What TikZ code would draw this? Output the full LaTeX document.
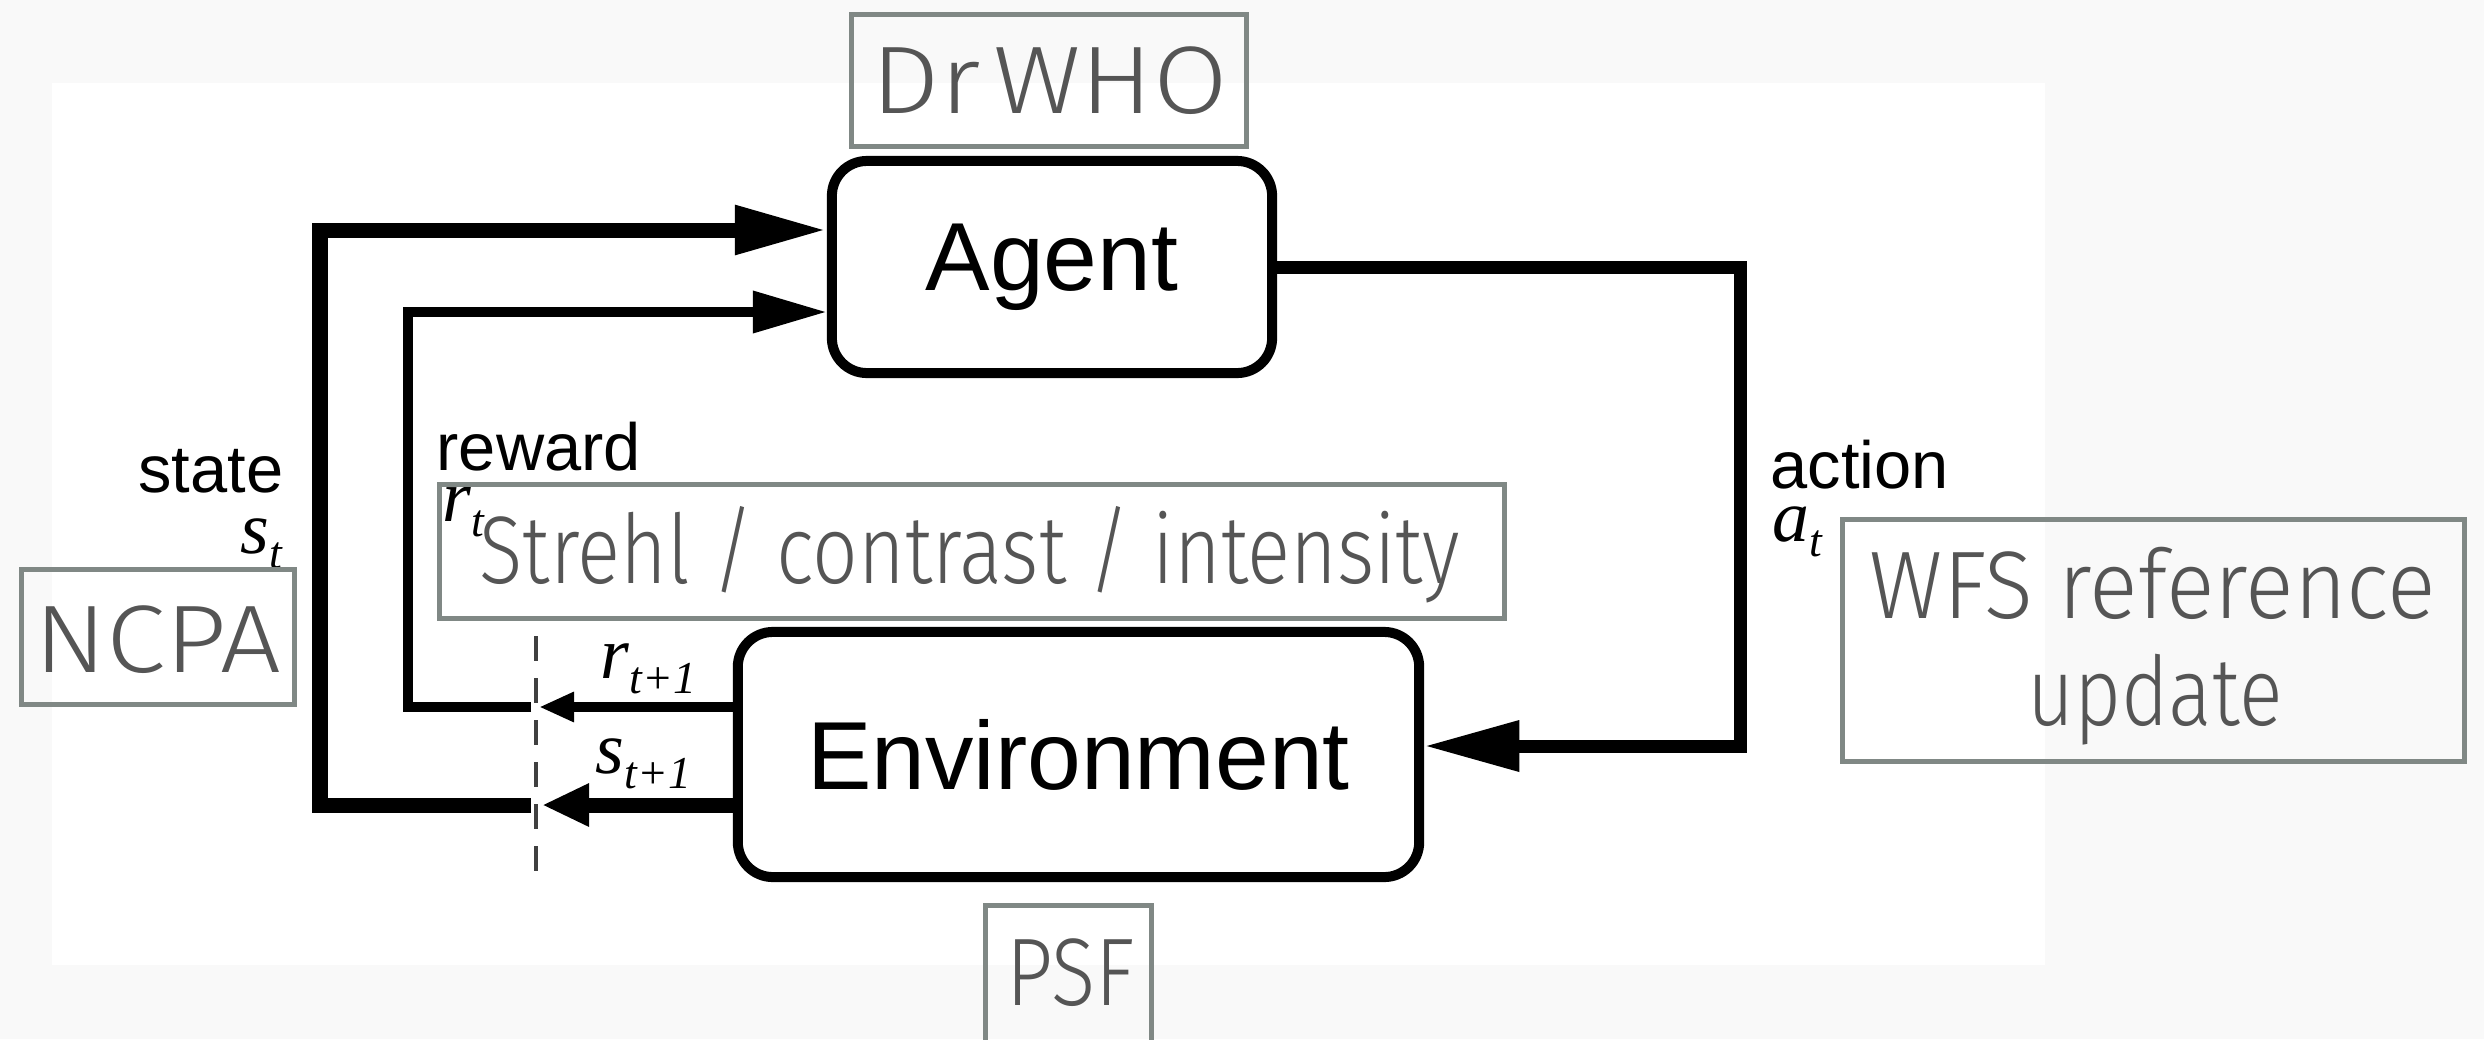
\documentclass[tikz,border=0pt]{standalone}
\usepackage{fontspec}
\usepackage{graphicx}
\setmainfont{Liberation Sans}
\newfontfamily\lblserif{Liberation Serif}
\newfontfamily\gillish{Fira Sans Light}
\usetikzlibrary{arrows.meta}

\definecolor{pagebg}{HTML}{F9F9F9}
\definecolor{boxgray}{HTML}{808885}
\definecolor{textgray}{HTML}{555555}

% italic symbol with a lowered italic index
\newcommand\msym[2]{{\lblserif\itshape\fontsize{21}{24}\selectfont #1\raisebox{-4.5pt}{\fontsize{13}{13}\selectfont #2}}}
% light annotation text squeezed to a given width
\newcommand\gl[2]{\resizebox{#1}{\height}{#2}}

\tikzset{
  blk/.style={draw=black, line width=1mm, rounded corners=3.5mm, inner sep=0pt,
              font=\fontsize{27.5}{30}\selectfont},
  thickline/.style={line width=1.5mm},
  thinline/.style={line width=1mm},
  actline/.style={line width=1.3mm},
  gbox/.style={draw=boxgray, line width=0.5mm, inner sep=0pt},
  gtext/.style={text=textgray, font=\gillish\fontsize{27.3}{30.4}\selectfont, inner sep=0pt, anchor=base},
  word/.style={font=\fontsize{19}{22}\selectfont, inner sep=0pt},
  sym/.style={inner sep=0pt},
}

\begin{document}
\begin{tikzpicture}[x=0.01cm, y=-0.01cm]
  \useasboundingbox (0,0) rectangle (2484,1039);
  \fill[pagebg] (0,0) rectangle (2484,1039);
  \fill[white] (52,83) rectangle (2045,965);

  % main blocks
  \node[blk, minimum width=4.4cm, minimum height=2.12cm] (agent) at (1052,267) {Agent};
  \node[blk, minimum width=6.81cm, minimum height=2.45cm] (env) at (1078.5,754.5) {Environment};

  % junction points
  \coordinate (sTip) at (542,805);
  \coordinate (sCut) at (531,805);
  \coordinate (sL) at (320,805);
  \coordinate (sT) at (320,230);
  \coordinate (rTip) at (539,707);
  \coordinate (rCut) at (531,707);
  \coordinate (rL) at (408,707);
  \coordinate (rT) at (408,312);
  \coordinate (aR) at (1740,267);
  \coordinate (aB) at (1740,746);
  \coordinate (dTop) at (536,636);
  \coordinate (dBot) at (536,882);

  % state loop
  \draw[thickline, -{Triangle[length=4.7mm, width=4mm]}] (env.west |- sTip) -- (sTip);
  \draw[thickline, -{Triangle[length=9.2mm, width=4.6mm]}] (sCut) -- (sL) -- (sT) -- (agent.west |- sT);
  % reward loop
  \draw[thinline, -{Triangle[length=3.5mm, width=2.8mm]}] (env.west |- rTip) -- (rTip);
  \draw[thinline, -{Triangle[length=7.4mm, width=4mm]}] (rCut) -- (rL) -- (rT) -- (agent.west |- rT);
  % action
  \draw[actline, -{Triangle[length=9.5mm, width=4.8mm]}] (agent.east) -- (aR) -- (aB) -- (env.east |- aB);
  % time step boundary
  \draw[line width=0.4mm, black!75, dash pattern=on 2.5mm off 1.7mm] (dTop) -- (dBot);

  % labels of the loop
  \node[word, anchor=base east] (lstate) at (284,492) {state};
  \node[sym, anchor=base east] (lst) at (283,553) {\msym{s}{t}};
  \node[word, anchor=base west] (lreward) at (436,470) {reward};
  \node[sym, anchor=base west] (lrt) at (442,521) {\msym{r}{t}};
  \node[sym, anchor=base west] (lrn) at (600,678) {\msym{r}{t+1}};
  \node[sym, anchor=base west] (lsn) at (595,773) {\msym{s}{t+1}};
  \node[word, anchor=base west] (laction) at (1770,488) {action};
  \node[sym, anchor=base west] (lat) at (1772,541) {\msym{a}{t}};

  % annotation boxes
  \node[gbox, minimum width=3.95cm, minimum height=1.32cm] (bwho) at (1049,80.5) {};
  \node[gtext] (twho) at (1050,113) {\gl{35.6mm}{Dr\kern0.12em WHO}};
  \node[gbox, minimum width=10.65cm, minimum height=1.34cm] (bstrehl) at (972,551.5) {};
  \node[gtext] (tstrehl) at (970,583) {\gl{98mm}{Strehl / contrast / intensity}};
  \node[gbox, minimum width=2.73cm, minimum height=1.35cm] (bncpa) at (158,637) {};
  \node[gtext] (tncpa) at (158,672) {\gl{24.7mm}{NCPA}};
  \node[gbox, minimum width=6.22cm, minimum height=2.42cm] (bwfs) at (2153.5,640.5) {};
  \node[gtext] (twfs) at (2153,618) {\gl{56.6mm}{WFS reference}};
  \node[gtext] (tupd) at (2155,725) {\gl{25.5mm}{update}};
  \node[gbox, minimum width=1.66cm, minimum height=1.62cm] (bpsf) at (1068.5,986.5) {};
  \node[gtext] (tpsf) at (1071,1005) {\gl{12.8mm}{PSF}};
\end{tikzpicture}
\end{document}
